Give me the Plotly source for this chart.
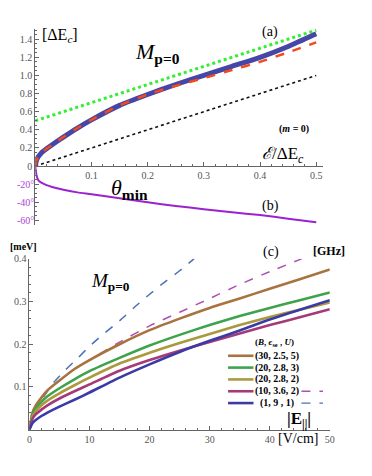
import plotly.graph_objects as go

# ---------------- data: panels (a)/(b) ----------------
eps = [0, 0.002, 0.005, 0.01, 0.02, 0.03, 0.05, 0.075, 0.1, 0.15, 0.2, 0.25, 0.3, 0.35, 0.4, 0.45, 0.5]
M_exact = [0, 0.06, 0.1, 0.14, 0.19, 0.235, 0.32, 0.42, 0.51, 0.67, 0.79, 0.9, 1.0, 1.1, 1.2, 1.32, 1.46]
M_approx = [0, 0.06, 0.1, 0.14, 0.19, 0.235, 0.32, 0.42, 0.51, 0.67, 0.79, 0.885, 0.97, 1.06, 1.15, 1.255, 1.365]
eps_lin = [0, 0.5]
green_line = [0.5, 1.5]
black_line = [0.0, 1.0]
eps_theta = [0, 0.001, 0.003, 0.006, 0.01, 0.02, 0.03, 0.05, 0.075, 0.1, 0.15, 0.2, 0.25, 0.3, 0.35, 0.4, 0.45, 0.5]
theta_min = [0, -6, -12, -16, -18, -21, -23, -26, -29, -31, -35.5, -40, -44, -47.5, -51, -54, -58, -62]

# ---------------- data: panel (c) ----------------
E_field = [0, 0.5, 1, 2, 3, 5, 7.5, 10, 15, 20, 25, 30, 35, 40, 45, 50]
M_30_25_5 = [0, 0.04, 0.055, 0.075, 0.092, 0.115, 0.142, 0.163, 0.2, 0.233, 0.26, 0.285, 0.307, 0.33, 0.352, 0.375]
M_20_28_3 = [0, 0.035, 0.048, 0.065, 0.078, 0.097, 0.118, 0.137, 0.168, 0.197, 0.222, 0.245, 0.266, 0.285, 0.303, 0.321]
M_20_28_2 = [0, 0.03, 0.042, 0.057, 0.068, 0.085, 0.104, 0.122, 0.155, 0.18, 0.203, 0.224, 0.245, 0.264, 0.281, 0.298]
M_10_36_2 = [0, 0.025, 0.035, 0.047, 0.057, 0.073, 0.09, 0.106, 0.138, 0.163, 0.185, 0.205, 0.225, 0.245, 0.263, 0.282]
M_1_9_1 = [0, 0.015, 0.022, 0.032, 0.04, 0.054, 0.07, 0.087, 0.122, 0.153, 0.182, 0.208, 0.232, 0.258, 0.281, 0.303]
E_dash_mag = [0, 0.5, 1, 2, 3, 5, 7.5, 10, 15, 20, 25, 30, 35, 40, 45.3]
M_dash_mag = [0, 0.04, 0.055, 0.075, 0.092, 0.115, 0.142, 0.163, 0.205, 0.243, 0.275, 0.307, 0.34, 0.37, 0.4]
E_dash_blue = [0, 1, 2, 3, 4, 6, 8, 10, 12, 15, 18, 20, 22, 25, 27.4]
M_dash_blue = [0, 0.05, 0.07, 0.09, 0.11, 0.14, 0.167, 0.195, 0.22, 0.255, 0.293, 0.317, 0.34, 0.372, 0.4]
legend_labels = ["(30, 2.5, 5)", "(20, 2.8, 3)", "(20, 2.8, 2)", "(10, 3.6, 2)", "(1, 9 , 1)"]
MEV_TO_GHZ = 241.8

W, H = 372, 476
def px(x): return x / W
def py(y): return 1 - y / H

SERIF = "Liberation Serif"
TICKC = "#555555"
c_brown, c_green, c_olive, c_mag, c_blue = "#A8733E", "#3FA24C", "#A99A3E", "#A43A78", "#3B3BA6"
c_dblue, c_dmag = "#4A70B5", "#B050B5"
c_purple = "#9A22D0"

fig = go.Figure()
# panel (a)/(b)
fig.add_trace(go.Scatter(x=eps_lin, y=green_line, mode="lines", line=dict(color="#33EE33", width=3, dash="dot"), xaxis="x", yaxis="y"))
fig.add_trace(go.Scatter(x=eps_lin, y=black_line, mode="lines", line=dict(color="#111111", width=1.6, dash="dot"), xaxis="x", yaxis="y"))
fig.add_trace(go.Scatter(x=eps, y=M_exact, mode="lines", line=dict(color="#4646A6", width=5, shape="spline", smoothing=0.6), xaxis="x", yaxis="y"))
fig.add_trace(go.Scatter(x=eps, y=M_approx, mode="lines", line=dict(color="#F04A1E", width=2.5, dash="dash", shape="spline", smoothing=0.6), xaxis="x", yaxis="y"))
fig.add_trace(go.Scatter(x=eps_theta, y=theta_min, mode="lines", line=dict(color=c_purple, width=2, shape="spline", smoothing=0.6), xaxis="x", yaxis="y3"))

# panel (c)
fig.add_trace(go.Scatter(x=E_dash_blue, y=M_dash_blue, mode="lines", line=dict(color=c_dblue, width=1.5, dash="dash", shape="spline", smoothing=0.6), xaxis="x2", yaxis="y2"))
fig.add_trace(go.Scatter(x=E_dash_mag, y=M_dash_mag, mode="lines", line=dict(color=c_dmag, width=1.5, dash="dash", shape="spline", smoothing=0.6), xaxis="x2", yaxis="y2"))
solid = [(M_30_25_5, c_brown), (M_20_28_3, c_green), (M_20_28_2, c_olive), (M_10_36_2, c_mag), (M_1_9_1, c_blue)]
for ys, col in solid:
    fig.add_trace(go.Scatter(x=E_field, y=ys, mode="lines", line=dict(color=col, width=2.6, shape="spline", smoothing=0.6), xaxis="x2", yaxis="y2"))

tickfont = dict(family=SERIF, size=10, color=TICKC)
y1_top, y1_bot = 1.516, -0.647

fig.update_layout(
    width=W, height=H, margin=dict(l=0, r=0, t=0, b=0),
    paper_bgcolor="white", plot_bgcolor="white", showlegend=False,
    xaxis=dict(domain=[px(33), px(327)], range=[0, 0.512], anchor="free", position=py(162.5),
               showgrid=False, zeroline=False, showline=True, linecolor="#666", linewidth=1,
               tickmode="array", tickvals=[0.1, 0.2, 0.3, 0.4, 0.5], ticks="inside", ticklen=4, tickcolor="#666",
               minor=dict(dtick=0.02, tick0=0, ticks="inside", ticklen=2, tickcolor="#666"),
               tickfont=tickfont),
    yaxis=dict(domain=[py(222), py(23)], range=[y1_bot, y1_top], anchor="x",
               showgrid=False, zeroline=False, showline=True, linecolor="#666", linewidth=1,
               tickmode="array", tickvals=[0, 0.2, 0.4, 0.6, 0.8, 1.0, 1.2, 1.4],
               ticktext=["0", "0.2", "0.4", "0.6", "0.8", "1.0", "1.2", "1.4"],
               ticks="inside", ticklen=4, tickcolor="#666",
               minor=dict(dtick=0.05, tick0=0, ticks="inside", ticklen=2, tickcolor="#666"),
               tickfont=tickfont),
    yaxis3=dict(overlaying="y", anchor="x", side="left", range=[y1_bot * 100, y1_top * 100],
                showgrid=False, zeroline=False, showline=False,
                tickmode="array", tickvals=[-20, -40, -60], ticktext=["-20°", "-40°", "-60°"],
                ticks="inside", ticklen=4, tickcolor="#666",
                tickfont=dict(family=SERIF, size=10, color="#B040D8")),
    xaxis2=dict(domain=[px(27), px(334)], range=[0, 50], anchor="y2",
                showgrid=False, zeroline=False, showline=True, linecolor="#666", linewidth=1,
                tickmode="array", tickvals=[0, 10, 20, 30, 40, 50], ticks="inside", ticklen=4, tickcolor="#666",
                minor=dict(dtick=2, tick0=0, ticks="inside", ticklen=2, tickcolor="#666"),
                tickfont=tickfont),
    yaxis2=dict(domain=[py(430), py(256.6)], range=[0, 0.4], anchor="x2",
                showgrid=False, zeroline=False, showline=True, linecolor="#666", linewidth=1,
                tickmode="array", tickvals=[0.1, 0.2, 0.3, 0.4], ticks="inside", ticklen=4, tickcolor="#666",
                minor=dict(dtick=0.02, tick0=0, ticks="inside", ticklen=2, tickcolor="#666"),
                tickfont=tickfont),
    yaxis4=dict(overlaying="y2", anchor="x2", side="right", range=[0, 0.4 * MEV_TO_GHZ],
                showgrid=False, zeroline=False, showline=True, linecolor="#666", linewidth=1,
                tickmode="array", tickvals=[20, 40, 60, 80], ticks="inside", ticklen=4, tickcolor="#666",
                minor=dict(dtick=5, tick0=0, ticks="inside", ticklen=2, tickcolor="#666"),
                tickfont=tickfont),
)

def ann(x, y, text, size, xanchor="center", color="black", yanchor="middle"):
    fig.add_annotation(x=px(x), y=py(y), xref="paper", yref="paper", text=text, showarrow=False,
                       xanchor=xanchor, yanchor=yanchor, font=dict(family=SERIF, size=size, color=color))

ann(38, 30, "[ΔE<sub><i>c</i></sub>]", 16, xanchor="left")
ann(273, 26, "(a)", 14)
ann(133, 48, "<i>M</i><sub><b>p=0</b></sub>", 22, xanchor="left")
ann(297, 125, "<b>(<i>m</i> = 0)</b>", 10)
ann(286, 151, "<i>ℰ</i>/ΔE<sub><i>c</i></sub>", 17)
ann(108, 186, "<i>θ</i><sub><b>min</b></sub>", 22, xanchor="left")
ann(273, 203, "(b)", 14)
ann(21, 244, "<b>[meV]</b>", 10)
ann(274, 250, "(c)", 14)
ann(333, 249, "<b>[GHz]</b>", 12)
ann(88, 280, "<i>M</i><sub><b>p=0</b></sub>", 19, xanchor="left")
ann(277, 342, "<b>(<i>B</i>, <i>ϵ</i><sub>se</sub> , <i>U</i>)</b>", 9)
ann(302, 420, "<b>|E<sub>||</sub>|</b>", 17)
ann(301, 439, "[V/cm]", 14)

leg_y = [355, 367, 379, 391, 403]
for lab, (ys, col), yy in zip(legend_labels, solid, leg_y):
    fig.add_shape(type="line", xref="paper", yref="paper", x0=px(230), x1=px(256), y0=py(yy), y1=py(yy),
                  line=dict(color=col, width=2.6))
    ann(280, yy, "<b>" + lab + "</b>", 10)
for col, yy in [(c_dmag, 391), (c_dblue, 403)]:
    fig.add_shape(type="line", xref="paper", yref="paper", x0=px(305), x1=px(327), y0=py(yy), y1=py(yy),
                  line=dict(color=col, width=1.3, dash="dash"))

fig.write_html("out.html", config={"displayModeBar": False},
               post_script="document.body.style.margin='0';document.body.style.overflow='hidden';")
